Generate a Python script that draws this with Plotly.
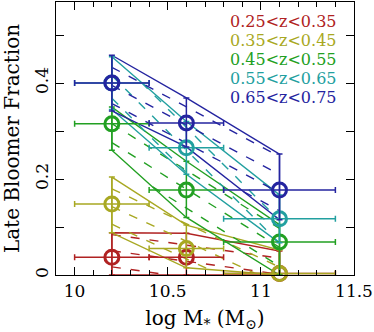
import numpy as np
import plotly.graph_objects as go

# stellar mass bins (log Msun) and their widths
mass = [10.2, 10.6, 11.1]
mass_lo = [0.2, 0.2, 0.3]
mass_hi = [0.2, 0.2, 0.3]

labels = ["0.25<z<0.35", "0.35<z<0.45", "0.45<z<0.55", "0.55<z<0.65", "0.65<z<0.75"]
colors = ["#B02222", "#A8A822", "#22A022", "#22A0A0", "#2424A0"]

# late bloomer fraction per redshift bin, with upper / lower bounds
frac_z030 = [0.037, 0.037, 0.003]
upper_z030 = [0.088, 0.087, 0.050]
lower_z030 = [0.0, 0.0, 0.0]

frac_z040 = [0.148, 0.055, 0.003]
upper_z040 = [0.204, 0.104, 0.052]
lower_z040 = [0.088, 0.015, 0.0]

frac_z050 = [0.315, 0.177, 0.069]
upper_z050 = [0.350, 0.237, 0.105]
lower_z050 = [0.260, 0.120, 0.0]

frac_z060 = [0.400, 0.265, 0.117]
upper_z060 = [0.455, 0.320, 0.167]
lower_z060 = [0.345, 0.210, 0.067]

frac_z070 = [0.400, 0.317, 0.177]
upper_z070 = [0.458, 0.369, 0.252]
lower_z070 = [0.342, 0.267, 0.115]

fracs = [frac_z030, frac_z040, frac_z050, frac_z060, frac_z070]
uppers = [upper_z030, upper_z040, upper_z050, upper_z060, upper_z070]
lowers = [lower_z030, lower_z040, lower_z050, lower_z060, lower_z070]

# hatch angle (deg, in screen space) for each band
hatch_angle = [8, 25, 32, 45, 28]
hatch_gap = 16  # px between hatch lines

W, H = 374, 332
ml, mr, mt, mb = 56, 20, 2, 57
xr = [9.9, 11.5]
yr = [0.0, 0.569]
px_x = (W - ml - mr) / (xr[1] - xr[0])
px_y = (H - mt - mb) / (yr[1] - yr[0])


def hatch(up, lo, ang):
    # dashed line fill clipped to the band between lo and up
    s = -np.tan(np.radians(ang)) * px_x / px_y
    dc = hatch_gap / np.cos(np.radians(ang)) / px_y
    xg = np.linspace(mass[0], mass[-1], 400)
    hi_g = np.interp(xg, mass, up)
    lo_g = np.interp(xg, mass, lo)
    cmin = np.min(lo_g - s * xg)
    cmax = np.max(hi_g - s * xg)
    hx, hy = [], []
    for c in np.arange(cmin + dc / 2, cmax, dc):
        yg = c + s * xg
        inside = (yg >= lo_g) & (yg <= hi_g)
        if inside.sum() < 2:
            continue
        xs = xg[inside]
        hx += [xs[0], xs[-1], None]
        hy += [c + s * xs[0], c + s * xs[-1], None]
    return hx, hy


fig = go.Figure()

for i in range(5):
    col = colors[i]
    up = uppers[i]
    lo = lowers[i]
    hx, hy = hatch(up, lo, hatch_angle[i])
    fig.add_trace(go.Scatter(
        x=hx, y=hy, mode="lines",
        line=dict(color=col, width=1.4, dash="9px,10px"),
        hoverinfo="skip"
    ))
    fig.add_trace(go.Scatter(
        x=mass + mass[::-1] + [mass[0]],
        y=up + lo[::-1] + [up[0]],
        mode="lines",
        line=dict(color=col, width=1.4),
        hoverinfo="skip"
    ))

for i in range(5):
    col = colors[i]
    f = fracs[i]
    fig.add_trace(go.Scatter(
        x=mass, y=f, mode="markers",
        marker=dict(symbol="circle-open", size=14, color=col,
                    line=dict(color=col, width=3)),
        error_x=dict(type="data", symmetric=False, array=mass_hi,
                     arrayminus=mass_lo, color=col, thickness=1.5, width=3),
        error_y=dict(type="data", symmetric=False,
                     array=[u - v for u, v in zip(uppers[i], f)],
                     arrayminus=[v - l for v, l in zip(f, lowers[i])],
                     color=col, thickness=1.5, width=3),
        cliponaxis=False
    ))

for i in range(5):
    fig.add_annotation(
        x=0.95, y=0.930 - i * 0.0696, xref="paper", yref="paper",
        text=labels[i], showarrow=False, xanchor="right", yanchor="middle",
        font=dict(size=16, color=colors[i], family="DejaVu Serif")
    )

fig.update_layout(
    width=W, height=H,
    margin=dict(l=ml, r=mr, t=mt, b=mb),
    paper_bgcolor="white", plot_bgcolor="white",
    showlegend=False,
    font=dict(family="DejaVu Serif", size=17, color="black"),
    xaxis=dict(
        range=xr, tickvals=[10, 10.5, 11, 11.5], ticktext=["10", "10.5", "11", "11.5"],
        ticks="inside", ticklen=8, tickcolor="black", showline=True, linecolor="black",
        linewidth=1.2, mirror="allticks", showgrid=False, zeroline=False,
        minor=dict(dtick=0.1, tick0=10, ticks="inside", ticklen=5, tickcolor="black"),
        title=dict(text="log M<sub>*</sub> (M<sub>⊙</sub>)"),
        ticklabeloverflow="allow", automargin=False,
    ),
    yaxis=dict(
        range=yr, tickvals=[0, 0.2, 0.4], ticktext=["0", "0.2", "0.4"], tickangle=-90,
        ticks="inside", ticklen=8, tickcolor="black", showline=True, linecolor="black",
        linewidth=1.2, mirror="allticks", showgrid=False, zeroline=False,
        minor=dict(dtick=0.1, tick0=0, ticks="inside", ticklen=8, tickcolor="black"),
        title=dict(text="Late Bloomer Fraction"),
        automargin=False,
    ),
)

# drop the default body margin so the figure fills the window exactly
fig.write_html("out.html", config={"displayModeBar": False},
               post_script="document.body.style.margin='0';")
